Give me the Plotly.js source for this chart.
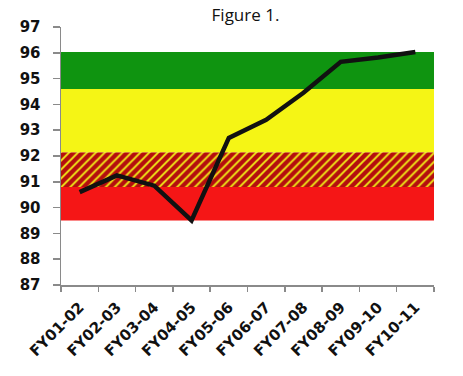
<!DOCTYPE html>
<html><head><meta charset="utf-8">
<script src="https://cdn.plot.ly/plotly-3.0.1.min.js"></script>
<style>html,body{margin:0;padding:0;background:#fff}#c{width:463px;height:376px}</style>
</head><body><div id="c"></div>
<script>
const categories = ["FY01-02","FY02-03","FY03-04","FY04-05","FY05-06","FY06-07","FY07-08","FY08-09","FY09-10","FY10-11"];
const values = [90.6, 91.25, 90.85, 89.5, 92.7, 93.4, 94.45, 95.65, 95.82, 96.03];
const bandNames = ["red","hatched","yellow","green"];
const bandLow = [89.5, 90.8, 92.15, 94.6];
const bandHigh = [90.8, 92.15, 94.6, 96.03];
const yTicks = [87,88,89,90,91,92,93,94,95,96,97];

const xIdx = categories.map((c,i)=>i);
const x0 = -0.5, x1 = categories.length - 0.5;

const bandStyle = {
  red: {fillcolor:'#f51616'},
  hatched: {fillcolor:'#b40e0e', fillpattern:{shape:'/', bgcolor:'#b40e0e', fgcolor:'#f2ee18', size:6.3, solidity:0.3}},
  yellow: {fillcolor:'#f5f515'},
  green: {fillcolor:'#0f9410'}
};

const traces = bandNames.map((n,i)=>Object.assign({
  type:'scatter', mode:'none', fill:'toself', hoverinfo:'skip', showlegend:false,
  x:[x0,x1,x1,x0,x0], y:[bandLow[i],bandLow[i],bandHigh[i],bandHigh[i],bandLow[i]]
}, bandStyle[n]));

traces.push({type:'scatter', mode:'lines', x:xIdx, y:values, showlegend:false,
  line:{color:'#111', width:4.5, shape:'linear'}});

Plotly.newPlot('c', traces, {
  width:463, height:376,
  margin:{l:61, r:29, t:27, b:91},
  paper_bgcolor:'#fff', plot_bgcolor:'#fff',
  title:{text:'Figure 1.', x:0.4946, xref:'paper', xanchor:'center', yref:'container', y:0.96, yanchor:'middle', font:{family:'Open Sans, sans-serif', size:17, color:'#111'}},
  xaxis:{range:[x0,x1], tickvals:xIdx, ticktext:categories, tickangle:-45, showgrid:false, zeroline:false,
    showline:true, linecolor:'#8a8a8a', linewidth:1.5, ticks:'', ticklabelstandoff:6,
    minor:{tick0:0.5, dtick:1, ticks:'outside', ticklen:5, tickcolor:'#8a8a8a', tickwidth:1.5, showgrid:false},
    tickfont:{family:'DejaVu Sans', size:15, color:'#111', weight:'bold'}},
  yaxis:{range:[87,97], tickvals:yTicks, showgrid:false, zeroline:false, showline:true, linecolor:'#8a8a8a', linewidth:1.5,
    ticks:'outside', ticklen:7, tickcolor:'#8a8a8a', tickwidth:1.5, ticklabelstandoff:9,
    tickfont:{family:'DejaVu Sans', size:15, color:'#111', weight:'bold'}}
}, {staticPlot:true, displayModeBar:false});
</script></body></html>
